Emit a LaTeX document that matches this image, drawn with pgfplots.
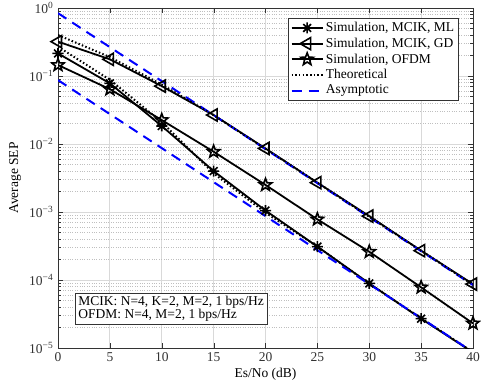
\documentclass[border=0pt]{standalone}
\usepackage{fontspec}
\setmainfont{Liberation Serif}
\usepackage{pgfplots}
\pgfplotsset{compat=1.18}
\usetikzlibrary{plotmarks}

% outlined five-point star, like the pentagram marker
\pgfdeclareplotmark{pentagram}{%
  \pgfpathmoveto{\pgfpointpolar{90}{\pgfplotmarksize}}%
  \pgfpathlineto{\pgfpointpolar{126}{0.42\pgfplotmarksize}}%
  \pgfpathlineto{\pgfpointpolar{162}{\pgfplotmarksize}}%
  \pgfpathlineto{\pgfpointpolar{198}{0.42\pgfplotmarksize}}%
  \pgfpathlineto{\pgfpointpolar{234}{\pgfplotmarksize}}%
  \pgfpathlineto{\pgfpointpolar{270}{0.42\pgfplotmarksize}}%
  \pgfpathlineto{\pgfpointpolar{306}{\pgfplotmarksize}}%
  \pgfpathlineto{\pgfpointpolar{342}{0.42\pgfplotmarksize}}%
  \pgfpathlineto{\pgfpointpolar{18}{\pgfplotmarksize}}%
  \pgfpathlineto{\pgfpointpolar{54}{0.42\pgfplotmarksize}}%
  \pgfpathclose
  \pgfusepathqstroke}

% eight-armed asterisk (plus and cross)
\pgfdeclareplotmark{ast8}{%
  \pgfpathmoveto{\pgfqpoint{0pt}{\pgfplotmarksize}}%
  \pgfpathlineto{\pgfqpoint{0pt}{-\pgfplotmarksize}}%
  \pgfpathmoveto{\pgfqpoint{\pgfplotmarksize}{0pt}}%
  \pgfpathlineto{\pgfqpoint{-\pgfplotmarksize}{0pt}}%
  \pgfpathmoveto{\pgfpointpolar{45}{\pgfplotmarksize}}%
  \pgfpathlineto{\pgfpointpolar{225}{\pgfplotmarksize}}%
  \pgfpathmoveto{\pgfpointpolar{135}{\pgfplotmarksize}}%
  \pgfpathlineto{\pgfpointpolar{315}{\pgfplotmarksize}}%
  \pgfusepathqstroke}

\newcommand{\fs}{\fontsize{13.5}{15}\selectfont}

\begin{document}
\fs
\begin{tikzpicture}
\useasboundingbox (-58pt,-42pt) rectangle (423pt,348pt);
\begin{semilogyaxis}[
  width=415pt, height=340pt, scale only axis,
  xmin=0, xmax=40, ymin=1e-5, ymax=1,
  xtick={0,5,...,40},
  ytick={1e-5,1e-4,1e-3,1e-2,1e-1,1},
  yticklabels={10\textsuperscript{−5},10\textsuperscript{−4},10\textsuperscript{−3},10\textsuperscript{−2},10\textsuperscript{−1},10\textsuperscript{0}},
  /pgf/number format/assume math mode=true,
  xlabel={Es/No (dB)}, ylabel={Average SEP},
  every tick label/.append style={font=\fs, text=black!80},
  label style={font=\fs},
  xlabel style={yshift=3pt},
  ylabel style={yshift=-1pt},
  axis line style={black!80, line width=0.8pt},
  tick style={black!80},
  grid=major, yminorgrids=true,
  major grid style={gray!30, line width=0.8pt},
  minor grid style={gray!50, dotted, line width=0.6pt},
  major tick length=5pt, minor tick length=3pt,
  legend cell align=left,
  legend style={at={(0.965,0.971)}, anchor=north east, draw=black!80, line width=0.8pt, font=\fs,
    row sep=0.3pt, inner sep=2pt},
  legend image code/.code={%
    \draw[mark repeat=2,mark phase=2] plot coordinates {(0cm,0cm) (0.55cm,0cm) (1.1cm,0cm)};},
]
% Simulation, MCIK, ML
\addplot[black, line width=1.8pt, mark=ast8, mark size=5.5pt, mark options={solid, line width=1.6pt}]
  coordinates {(0,0.215) (5,0.078) (10,0.0184) (15,0.0040) (20,0.00105) (25,3.1e-4) (30,8.9e-5) (35,2.7e-5)};
\addlegendentry{Simulation, MCIK, ML}
% Simulation, MCIK, GD
\addplot[black, line width=1.8pt, mark=triangle, mark size=7pt, mark options={solid, rotate=90, line width=1.6pt}]
  coordinates {(0,0.32) (5,0.176) (10,0.071) (15,0.0267) (20,0.0086) (25,0.0027) (30,8.7e-4) (35,2.7e-4) (40,8.7e-5)};
\addlegendentry{Simulation, MCIK, GD}
% Simulation, OFDM
\addplot[black, line width=1.8pt, mark=pentagram, mark size=6.5pt, mark options={solid, line width=1.6pt}]
  coordinates {(0,0.145) (5,0.064) (10,0.0225) (15,0.0077) (20,0.0025) (25,7.8e-4) (30,2.6e-4) (35,7.8e-5) (40,2.3e-5)};
\addlegendentry{Simulation, OFDM}
% Theoretical
\addplot[black, line width=2pt, dash pattern=on 1.5pt off 2.2pt]
  coordinates {(0,0.27) (5,0.088) (10,0.021) (15,0.0037) (20,0.00098) (25,3.1e-4) (30,8.8e-5) (35,2.75e-5) (40,8.7e-6)};
\addlegendentry{Theoretical}
% Asymptotic
\addplot[blue, line width=2pt, dash pattern=on 10pt off 7pt]
  coordinates {(0,0.84) (40,8.4e-5)};
\addlegendentry{Asymptotic}
% further curves, not in the legend
\addplot[black, line width=1.8pt, forget plot] coordinates {(35,2.7e-5) (40,8.6e-6)};
\addplot[black, line width=2pt, dash pattern=on 1.5pt off 2.2pt, forget plot]
  coordinates {(0,0.40) (5,0.19) (10,0.075) (15,0.0265) (20,0.0085) (25,0.0027) (30,8.5e-4) (35,2.7e-4) (40,8.5e-5)};
\addplot[blue, line width=2pt, dash pattern=on 10pt off 7pt, forget plot]
  coordinates {(0,0.087) (40,8.7e-6)};
\node[draw=black!80, line width=0.8pt, fill=white, anchor=north west, align=left, inner sep=3pt, font=\fs]
  at (axis cs:1.64,6.5e-5) {MCIK: N=4, K=2, M=2, 1 bps/Hz\\[-1.5pt]OFDM: N=4, M=2, 1 bps/Hz};
\end{semilogyaxis}
\end{tikzpicture}
\end{document}
